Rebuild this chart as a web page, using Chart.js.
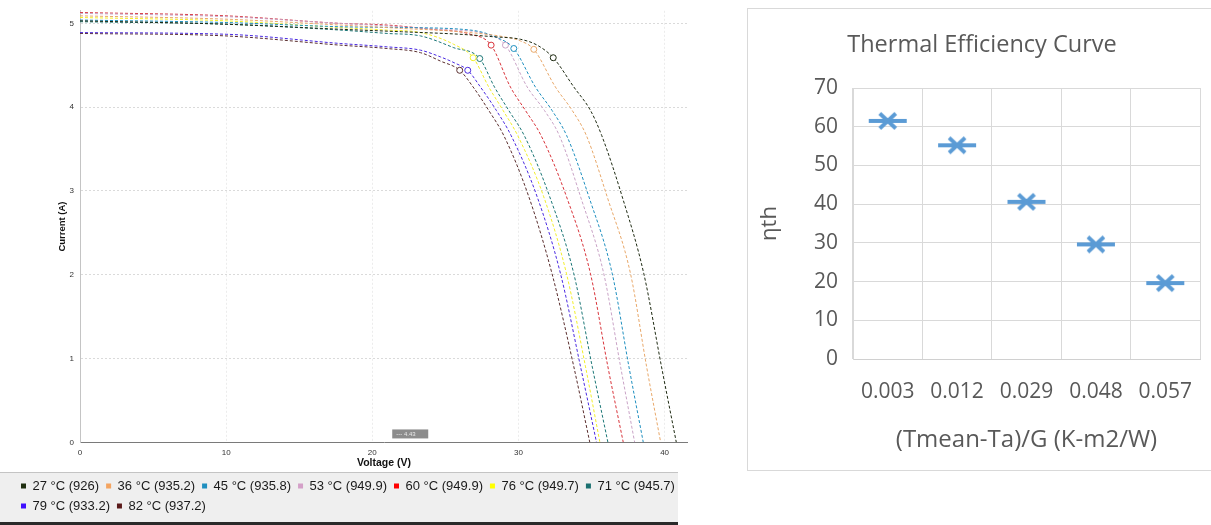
<!DOCTYPE html>
<html><head><meta charset="utf-8">
<script src="https://cdn.jsdelivr.net/npm/chart.js@4.4.1/dist/chart.umd.min.js"></script>
<style>
html,body{margin:0;padding:0;background:#fff;width:1211px;height:525px;overflow:hidden;}
#left{position:absolute;left:0;top:0;}
#rightBox{position:absolute;left:747px;top:8px;width:470px;height:463px;border:1px solid #d9d9d9;box-sizing:border-box;background:#fff;}
#right{position:absolute;left:0;top:0;}
</style></head><body>
<canvas id="left" width="688" height="525"></canvas>
<div id="rightBox"><canvas id="right" width="468" height="461"></canvas></div>
<script>
// ---------- Left chart: I-V curves (Voltage V, Current A) ----------
const seriesLabels = ['27 °C (926)','36 °C (935.2)','45 °C (935.8)','53 °C (949.9)','60 °C (949.9)','76 °C (949.7)','71 °C (945.7)','79 °C (933.2)','82 °C (937.2)'];
const lineColors   = ['#1e2a12','#e8a86a','#1f8fbf','#c9a3c6','#d8333a','#f2ee2a','#1b7676','#4a2ae0','#5a2e2e'];
const legendColors = ['#1f2f10','#f4a460','#1f8fbf','#d4a0c8','#ff0000','#ffff00','#1a7070','#4010ff','#5a1a1a'];

const curve27 = [[0,5.03],[10,4.99],[17.8,4.93],[22,4.90],[26,4.87],[28.3,4.84],[30.14,4.81],[31.28,4.74],[32.38,4.59],[33.79,4.24],[34.93,3.96],[35.7,3.66],[37.1,2.93],[38.58,2.01],[39.79,0.9],[40.8,0]];
const curve36 = [[0,5.09],[10,5.05],[17.8,4.98],[22,4.94],[26,4.90],[29,4.84],[30.14,4.79],[31.05,4.69],[32.53,4.24],[33.68,3.96],[34.65,3.66],[36.07,2.93],[37.67,2.01],[38.77,0.9],[39.73,0]];
const curve45 = [[0,5.04],[10,5.01],[17.8,4.96],[22,4.95],[26.71,4.92],[28.54,4.83],[29.68,4.70],[31.16,4.24],[32.3,3.96],[33.3,3.66],[34.82,2.93],[36.42,2.01],[37.56,0.9],[38.54,0]];
const curve53 = [[0,5.12],[10,5.08],[17.8,5.00],[21,4.97],[24.5,4.93],[27.85,4.87],[29.11,4.74],[30.6,4.24],[31.78,3.96],[32.8,3.66],[34.25,2.93],[35.84,2.01],[36.99,0.9],[37.95,0]];
const curve60 = [[0,5.13],[10,5.09],[17.8,5.00],[21,4.98],[24,4.93],[26.71,4.87],[28.13,4.74],[29.45,4.24],[30.48,3.96],[31.55,3.66],[33.29,2.93],[34.93,2.01],[36.12,0.9],[37.17,0]];
const curve76 = [[0,5.07],[10,5.03],[17.8,4.95],[21,4.92],[23.3,4.89],[25.57,4.75],[26.9,4.59],[27.97,4.24],[28.95,3.96],[29.95,3.66],[31.73,2.93],[33.29,2.01],[34.59,0.9],[35.57,0]];
const curve71 = [[0,5.02],[10,4.99],[17.8,4.92],[21,4.88],[23.3,4.85],[25.57,4.71],[27.35,4.58],[28.36,4.24],[29.34,3.96],[30.4,3.66],[32.14,2.93],[33.79,2.01],[35.05,0.9],[36.12,0]];
const curve79 = [[0,4.89],[10,4.87],[17.8,4.76],[21,4.72],[23.3,4.68],[24.66,4.60],[25.6,4.53],[26.53,4.44],[27.4,4.24],[28.49,3.96],[29.5,3.66],[31.28,2.93],[32.88,2.01],[34.25,0.9],[35.34,0]];
const curve82 = [[0,4.88],[10,4.85],[17.8,4.74],[21,4.70],[23.3,4.65],[24.66,4.55],[25.98,4.44],[26.9,4.24],[27.97,3.96],[29.0,3.66],[30.71,2.93],[32.3,2.01],[33.79,0.9],[34.88,0]];
const curves = [curve27, curve36, curve45, curve53, curve60, curve76, curve71, curve79, curve82];
// maximum power point voltage of each curve (marked with a small circle)
const mppVoltage = [32.38, 31.05, 29.68, 29.11, 28.13, 26.9, 27.35, 26.53, 25.98];
const voltTicks = [0, 10, 20, 30, 40];
const currentTicks = [0, 1, 2, 3, 4, 5];

const leftDatasets = curves.map((c, i) => ({
  label: seriesLabels[i],
  data: c.map(p => ({x: p[0], y: p[1]})),
  borderColor: lineColors[i],
  backgroundColor: legendColors[i],
  borderWidth: 1,
  borderDash: [3, 2],
  cubicInterpolationMode: 'monotone',
  fill: false,
  pointRadius: ctx => (ctx.raw && ctx.raw.x === mppVoltage[i]) ? 3 : 0,
  pointHoverRadius: 0,
  pointBackgroundColor: '#ffffff',
  pointBorderColor: lineColors[i],
  pointBorderWidth: 1
}));

const legendBg = {
  id: 'legendBg',
  beforeDraw(chart) {
    const lg = chart.legend; const ctx = chart.ctx;
    if (!lg) return;
    const top = lg.top - 0.5;
    ctx.save();
    ctx.fillStyle = '#efefef';
    ctx.fillRect(0, top, 678, chart.height - top);
    ctx.fillStyle = '#c4c4c4';
    ctx.fillRect(0, top, 678, 1);
    ctx.fillStyle = '#2a2a2a';
    ctx.fillRect(0, chart.height - 3, 678, 3);
    ctx.restore();
  },
  afterDraw(chart) {
    const ctx = chart.ctx;
    const xs = chart.scales.x, ys = chart.scales.y;
    const px = xs.getPixelForValue(21.5), py = ys.getPixelForValue(0.07);
    ctx.save();
    ctx.fillStyle = '#8c8c8c';
    ctx.fillRect(px - 2, py - 7, 36, 9);
    ctx.fillStyle = '#e8e8e8';
    ctx.font = '6px "Liberation Sans"';
    ctx.textBaseline = 'middle';
    ctx.fillText('--- 4.43', px + 2, py - 2.5);
    ctx.restore();
  }
};

new Chart(document.getElementById('left'), {
  type: 'line',
  data: { datasets: leftDatasets },
  plugins: [legendBg],
  options: {
    responsive: false,
    animation: false,
    events: [],
    layout: { padding: { left: 14, right: 0, top: 1, bottom: 2.5 } },
    plugins: {
      tooltip: { enabled: false },
      title: { display: false },
      legend: {
        position: 'bottom',
        align: 'start',
        labels: {
          boxWidth: 5, boxHeight: 5, padding: 7,
          color: '#1a1a1a',
          font: { family: '"Liberation Sans", Arial, sans-serif', size: 13 },
          generateLabels: chart => Chart.defaults.plugins.legend.labels.generateLabels(chart)
            .map(l => Object.assign(l, { lineDash: [], lineWidth: 0, strokeStyle: l.fillStyle }))
        }
      }
    },
    scales: {
      x: {
        type: 'linear', min: 0, max: 41.6,
        afterFit: s => { s.height = 30.2; },
        afterBuildTicks: s => { s.ticks = voltTicks.map(v => ({ value: v })); },
        ticks: { autoSkip: false, padding: 6, color: '#333', font: { family: '"Liberation Sans"', size: 8 } },
        grid: { color: '#ececec', drawTicks: false },
        border: { display: true, color: '#7a7a7a', dash: [2, 2] },
        title: { display: true, text: 'Voltage (V)', color: '#111',
                 font: { family: '"Liberation Sans"', size: 10.5, weight: 'bold' }, padding: { top: 0, bottom: 3.2 } }
      },
      y: {
        type: 'linear', min: 0, max: 5.15,
        afterFit: s => { s.width = 66; },
        afterBuildTicks: s => { s.ticks = currentTicks.map(v => ({ value: v })); },
        ticks: { autoSkip: false, padding: 6, color: '#333', font: { family: '"Liberation Sans"', size: 8 } },
        grid: { color: ctx => (ctx.tick && ctx.tick.value > 0) ? '#dadada' : 'rgba(0,0,0,0)', drawTicks: false },
        border: { display: true, color: '#c4c4c4', dash: [2, 2] },
        title: { display: true, text: 'Current (A)', color: '#111',
                 font: { family: '"Liberation Sans"', size: 9.5, weight: 'bold' }, padding: { top: 42.3, bottom: 0 } }
      }
    }
  }
});

// ---------- Right chart: Thermal Efficiency Curve ----------
const effLabels = ['0.003', '0.012', '0.029', '0.048', '0.057'];
const effValues = [61.5, 55.2, 40.6, 29.6, 19.6];
const effYTicks = [0, 10, 20, 30, 40, 50, 60, 70];

function starMarker(color) {
  const c = document.createElement('canvas');
  c.width = 40; c.height = 22;
  const g = c.getContext('2d');
  g.strokeStyle = color; g.lineWidth = 3.8; g.lineCap = 'butt';
  g.beginPath(); g.moveTo(1, 11); g.lineTo(39, 11); g.stroke();
  g.beginPath(); g.moveTo(12, 3.5); g.lineTo(28, 18.5); g.moveTo(28, 3.5); g.lineTo(12, 18.5); g.stroke();
  return c;
}

const okFont = (size) => ({ family: '"Open Sans", "Noto Sans", sans-serif', size: size, weight: 'normal' });

new Chart(document.getElementById('right'), {
  type: 'line',
  data: {
    labels: effLabels,
    datasets: [{
      label: 'ηth',
      data: effValues,
      showLine: false,
      pointStyle: starMarker('#5b9bd5'),
      pointRadius: 10,
      borderColor: '#5b9bd5',
      backgroundColor: '#5b9bd5'
    }]
  },
  options: {
    responsive: false,
    animation: false,
    events: [],
    layout: { padding: { left: 0, right: 0, top: 0, bottom: 0 } },
    plugins: {
      legend: { display: false },
      tooltip: { enabled: false },
      title: { display: true, text: 'Thermal Efficiency Curve', color: '#595959',
               font: okFont(23.5), padding: { top: 21.9, bottom: 28.9 } }
    },
    scales: {
      x: {
        type: 'category', offset: true,
        afterFit: s => { s.height = 111; },
        grid: { offset: true, color: '#d9d9d9', drawTicks: false },
        border: { display: true, color: '#d0d0d0' },
        ticks: { color: '#595959', font: okFont(21), padding: 20.4, maxRotation: 0 },
        title: { display: true, text: '(Tmean-Ta)/G (K-m2/W)', color: '#595959', font: okFont(24),
                 padding: { top: 0, bottom: 15.6 } }
      },
      y: {
        min: 0, max: 70,
        afterFit: s => { s.width = 105; },
        afterBuildTicks: s => { s.ticks = effYTicks.map(v => ({ value: v })); },
        grid: { color: '#d9d9d9', drawTicks: false },
        border: { display: true, color: '#d9d9d9' },
        ticks: { color: '#595959', font: okFont(21), padding: 15 },
        title: { display: true, text: 'ηth', color: '#595959', font: okFont(22), padding: { top: 8.8, bottom: 0 } }
      },
      // empty spacer so the plot area ends where the reference's does
      ySpacer: {
        position: 'right', min: 0, max: 70,
        afterFit: s => { s.width = 16; },
        ticks: { display: false },
        grid: { drawOnChartArea: false, drawTicks: false },
        border: { display: false }
      }
    }
  }
});
</script></body></html>
